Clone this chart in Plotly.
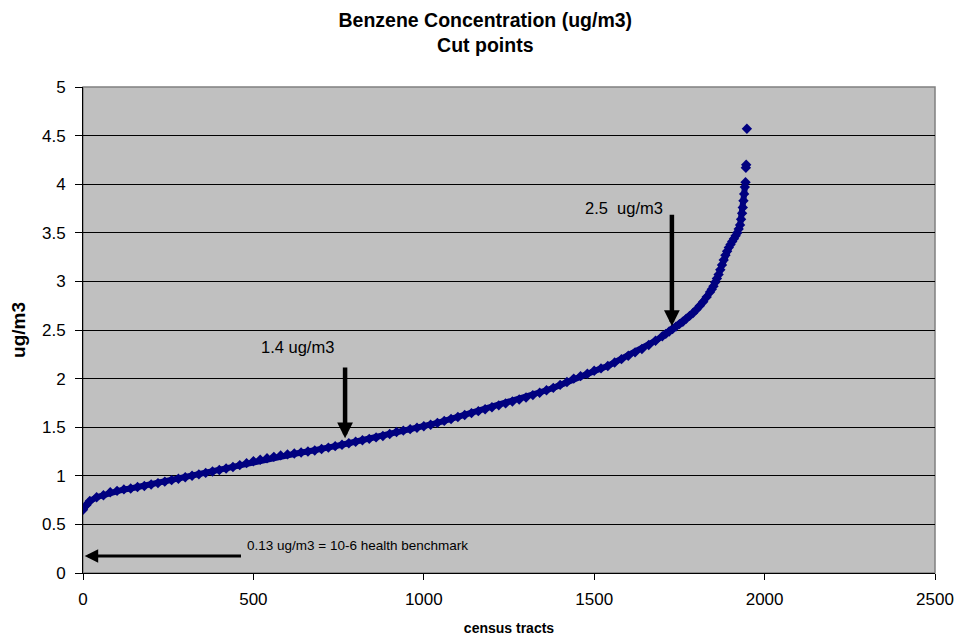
import plotly.graph_objects as go

# Census tract rank (x) and benzene concentration (ug/m3)
tract = [0, 10, 20, 40, 60, 80, 100, 120, 140, 160, 180, 200, 220, 240, 260, 280,
         300, 320, 340, 360, 380, 400, 420, 440, 460, 480, 500, 520, 540, 560, 580,
         600, 620, 640, 660, 680, 700, 720, 740, 760, 780, 800, 820, 840, 860, 880,
         900, 920, 940, 960, 980, 1000, 1020, 1040, 1060, 1080, 1100, 1120, 1140,
         1160, 1180, 1200, 1220, 1240, 1260, 1280, 1300, 1320, 1340, 1360, 1380,
         1400, 1420, 1440, 1460, 1480, 1500, 1520, 1540, 1560, 1580, 1600, 1620,
         1640, 1660, 1680, 1700, 1710, 1720, 1730, 1740, 1750, 1760, 1770, 1780,
         1790, 1800, 1810, 1820, 1830, 1840, 1845, 1850, 1855, 1860, 1865, 1870,
         1875, 1880, 1885, 1890, 1895, 1900, 1905, 1910, 1915, 1920, 1924, 1928,
         1931, 1934, 1936, 1938, 1940, 1942, 1944, 1945, 1946, 1948]
conc = [0.65, 0.70, 0.74, 0.78, 0.80, 0.83, 0.845, 0.86, 0.87, 0.885, 0.895, 0.91,
        0.925, 0.94, 0.955, 0.97, 0.985, 1.00, 1.015, 1.03, 1.045, 1.06, 1.075,
        1.09, 1.11, 1.13, 1.15, 1.165, 1.18, 1.195, 1.21, 1.22, 1.23, 1.24, 1.25,
        1.26, 1.275, 1.29, 1.305, 1.32, 1.335, 1.35, 1.365, 1.38, 1.395, 1.41,
        1.43, 1.45, 1.465, 1.48, 1.495, 1.51, 1.525, 1.545, 1.565, 1.585, 1.605,
        1.625, 1.645, 1.665, 1.685, 1.705, 1.725, 1.745, 1.765, 1.785, 1.805,
        1.83, 1.855, 1.88, 1.905, 1.935, 1.965, 2.0, 2.025, 2.05, 2.08, 2.105,
        2.13, 2.165, 2.20, 2.235, 2.27, 2.305, 2.345, 2.39, 2.435, 2.46, 2.485,
        2.51, 2.535, 2.56, 2.585, 2.615, 2.645, 2.675, 2.71, 2.75, 2.79, 2.84,
        2.89, 2.92, 2.95, 2.99, 3.03, 3.07, 3.12, 3.17, 3.22, 3.27, 3.31, 3.35,
        3.38, 3.41, 3.44, 3.47, 3.50, 3.54, 3.58, 3.64, 3.70, 3.76, 3.83, 3.90,
        3.97, 4.02, 4.17, 4.20, 4.57]

x_ticks = [0, 500, 1000, 1500, 2000, 2500]
y_ticks = [0, 0.5, 1, 1.5, 2, 2.5, 3, 3.5, 4, 4.5, 5]

FONT = "Liberation Sans, Arial, sans-serif"
NAVY = "#000080"

# continuous part of the sorted series, and the isolated top outliers
n_cont = len(conc) - 3

fig = go.Figure()
fig.add_trace(go.Scatter(
    x=tract[:n_cont], y=conc[:n_cont], mode="lines+markers",
    line=dict(color=NAVY, width=6),
    marker=dict(symbol="diamond", size=8, color=NAVY, line=dict(width=0)),
    showlegend=False, hoverinfo="skip"))
fig.add_trace(go.Scatter(
    x=tract[n_cont:], y=conc[n_cont:], mode="markers",
    marker=dict(symbol="diamond", size=8, color=NAVY, line=dict(width=0)),
    showlegend=False, hoverinfo="skip"))

fig.update_layout(
    width=947, height=628,
    margin=dict(l=75, r=20, t=79, b=63),
    paper_bgcolor="white", plot_bgcolor="#C0C0C0",
    font=dict(family=FONT, color="black"),
    title=dict(text="<b>Benzene Concentration (ug/m3)<br>Cut points</b>",
               x=0.504, xanchor="center", y=0.9705, yanchor="middle",
               font=dict(size=19.5, family=FONT)),
    xaxis=dict(range=[0, 2500], tickvals=x_ticks, showgrid=False, zeroline=False,
               showline=True, linecolor="black", linewidth=1,
               ticks="outside", ticklen=6, tickcolor="black",
               ticklabelstandoff=5, automargin=False,
               tickfont=dict(size=17),
               title=dict(text="<b>census tracts</b>", font=dict(size=14), standoff=21)),
    yaxis=dict(range=[0, 5], tickvals=y_ticks, showgrid=True, gridcolor="black",
               gridwidth=1, zeroline=False,
               showline=True, linecolor="black", linewidth=1,
               ticks="outside", ticklen=7, tickcolor="black",
               ticklabelstandoff=6, automargin=False,
               tickfont=dict(size=17),
               title=dict(text="<b>ug/m3</b>", font=dict(size=19), standoff=17)),
)

fig.add_shape(type="rect", xref="x domain", yref="y domain", x0=0, x1=1, y0=0, y1=1,
              line=dict(color="#808080", width=1.5), layer="below")

# Annotation arrows and labels
fig.add_annotation(x=769, y=1.386, ax=769, ay=2.13, xref="x", yref="y",
                   axref="x", ayref="y", text="", showarrow=True,
                   arrowhead=2, arrowwidth=4.5, arrowsize=0.7, arrowcolor="black")
fig.add_annotation(x=629, y=2.33, xref="x", yref="y", text="1.4 ug/m3",
                   showarrow=False, font=dict(size=16.5))
fig.add_annotation(x=1728, y=2.54, ax=1728, ay=3.70, xref="x", yref="y",
                   axref="x", ayref="y", text="", showarrow=True,
                   arrowhead=2, arrowwidth=4.5, arrowsize=0.7, arrowcolor="black")
fig.add_annotation(x=1587, y=3.755, xref="x", yref="y", text="2.5  ug/m3",
                   showarrow=False, font=dict(size=16.5))
fig.add_annotation(x=5, y=0.175, ax=468, ay=0.175, xref="x", yref="y",
                   axref="x", ayref="y", text="", showarrow=True,
                   arrowhead=2, arrowwidth=3, arrowsize=0.9, arrowcolor="black")
fig.add_annotation(x=475, y=0.278, xref="x", yref="y", xanchor="left",
                   text="0.13 ug/m3 = 10-6 health benchmark",
                   showarrow=False, font=dict(size=13.5))

fig.write_html("out.html")
